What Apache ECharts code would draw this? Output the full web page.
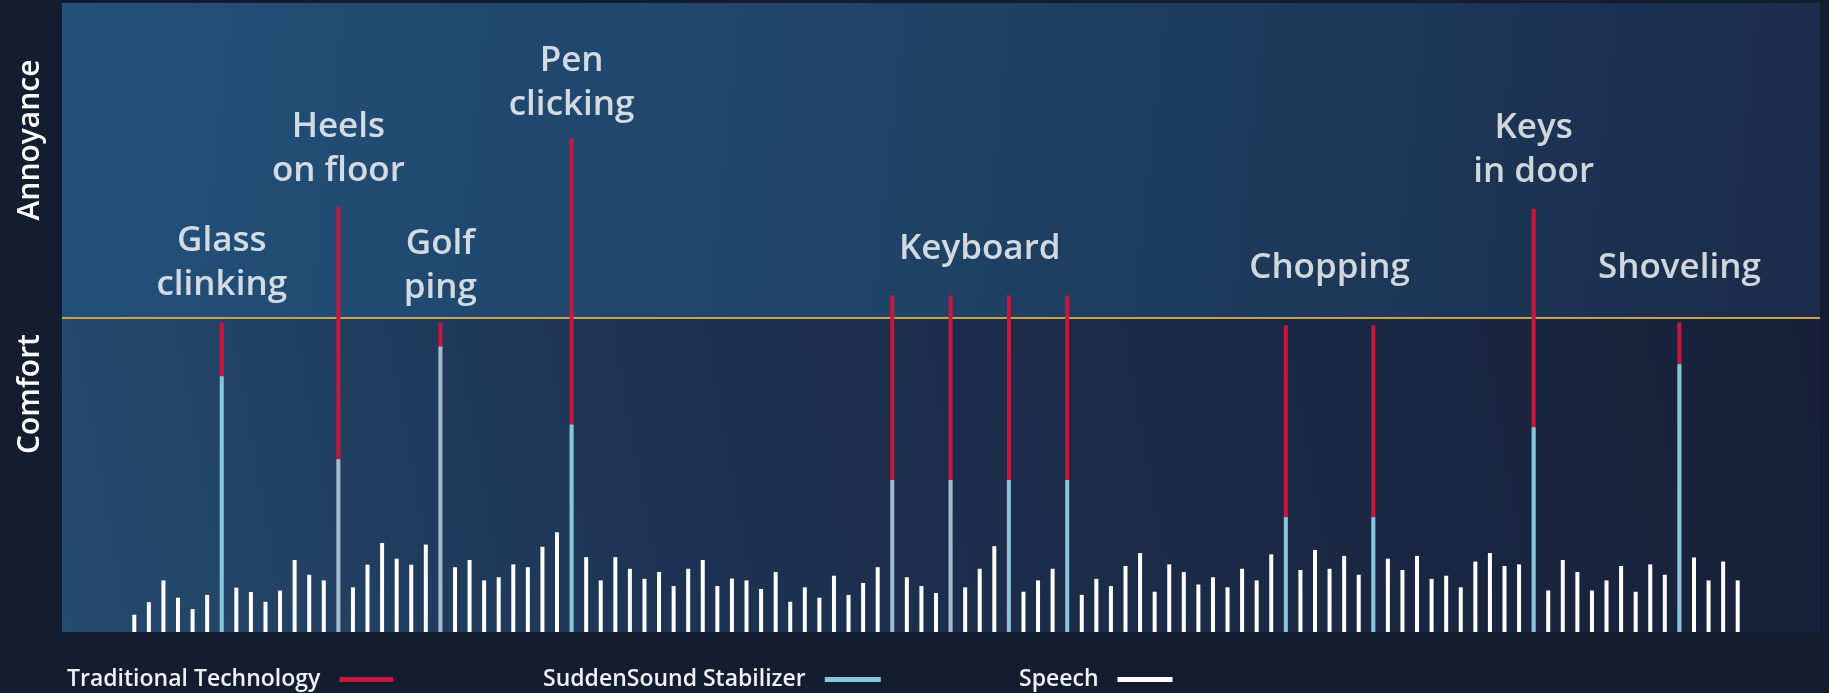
<!DOCTYPE html>
<html>
<head>
<meta charset="utf-8">
<script src="https://cdn.jsdelivr.net/npm/echarts@6/dist/echarts.min.js"></script>
<style>
  html, body { margin: 0; padding: 0; background: #141c30; }
  #chart { width: 1829px; height: 693px; }
</style>
</head>
<body>
<div id="chart"></div>
<script>
// speech level per time slot (null where a sudden sound happens)
const speech = [
  5.5, 9.5, 16.4, 10.9, 7.3, 11.8, null, 14.1, 12.7, 9.6,
  13.2, 22.9, 18.2, 16.4, null, 14.2, 21.4, 28.3, 23.3, 21.4,
  27.8, null, 20.6, 22.9, 16.4, 17.4, 21.5, 20.6, 27.1, 31.7,
  null, 23.8, 16.4, 23.8, 20.1, 16.9, 19.1, 14.6, 20.1, 22.9,
  14.6, 17.0, 16.4, 13.7, 19.1, 9.6, 14.2, 10.9, 17.9, 11.8,
  15.6, 20.6, null, 17.4, 14.6, 12.4, null, 14.2, 20.1, 27.3,
  null, 12.8, 16.4, 20.1, null, 11.8, 16.9, 14.6, 21.0, 25.1,
  12.8, 21.5, 19.1, 15.1, 17.4, 14.2, 20.1, 16.4, 24.7, null,
  19.7, 26.1, 20.1, 24.2, 18.2, null, 23.3, 19.7, 24.2, 16.9,
  17.9, 14.2, 22.4, 25.1, 21.0, 21.5, null, 13.2, 22.9, 19.1,
  13.2, 16.4, 21.0, 12.8, 21.5, 18.2, null, 23.7, 16.4, 22.4,
  16.4
]

// sudden sounds: slot, level with stabilizer, level with traditional tech
const eventIdx = [6, 14, 21, 30, 52, 56, 60, 64, 79, 85, 96, 106]
const stabilizer = [81.3, 54.9, 90.8, 66.0, 48.3, 48.3, 48.3, 48.3, 36.5, 36.5, 65.1, 85.1]
const traditional = [98.4, 135.2, 98.4, 156.8, 107, 107, 107, 107, 97.5, 97.5, 134.6, 98.4]

// sound names and where they sit
const labelText = ['Glass\nclinking', 'Heels\non floor', 'Golf\nping', 'Pen\nclicking', 'Keyboard', 'Chopping', 'Keys\nin door', 'Shoveling']
const labelIdx = [6, 14, 21, 30, 58, 82, 96, 106]
const labelAt = [103.2, 139.7, 102.5, 160.6, 114.9, 108.6, 139.4, 108.6]

const threshold = 100
const yMax = 200

const slots = speech.map((v, i) => String(i))
const redData = slots.map(() => '-')
const blueData = slots.map(() => '-')
eventIdx.forEach((idx, i) => {
  redData[idx] = traditional[i]
  blueData[idx] = stabilizer[i]
})
const whiteData = speech.map(v => (v == null ? '-' : v))

const FONT = '"Open Sans", "DejaVu Sans", sans-serif'

function legendFor(name, left, w) {
  return {
    data: [name], left: left, top: 663, align: 'right',
    icon: 'rect', itemWidth: w, itemHeight: 5,
    textStyle: { color: '#eef2f6', fontFamily: FONT, fontWeight: 600, fontSize: 23, padding: [0, 14, 0, 0] }
  }
}

const chart = echarts.init(document.getElementById('chart'))
const option = {
  animation: false,
  backgroundColor: '#141c30',
  grid: [
    { left: 62, right: 9, top: 3, bottom: 61 },
    { left: 127, right: 84, top: 3, bottom: 61 }
  ],
  xAxis: [
    { gridIndex: 0, type: 'value', min: 0, max: 1, show: false },
    { gridIndex: 1, type: 'category', data: slots, show: false }
  ],
  yAxis: [
    { gridIndex: 0, type: 'value', min: 0, max: yMax, show: false },
    { gridIndex: 1, type: 'value', min: 0, max: yMax, show: false }
  ],
  legend: [
    legendFor('Traditional Technology', 62, 54),
    legendFor('SuddenSound Stabilizer', 538, 56),
    legendFor('Speech', 1014, 55)
  ],
  graphic: [
    {
      type: 'text', x: 30, y: 140, rotation: Math.PI / 2,
      style: { text: 'Annoyance', fill: '#ffffff', font: '600 30px ' + FONT, align: 'center', verticalAlign: 'middle' }
    },
    {
      type: 'text', x: 30, y: 394, rotation: Math.PI / 2,
      style: { text: 'Comfort', fill: '#ffffff', font: '600 30px ' + FONT, align: 'center', verticalAlign: 'middle' }
    }
  ],
  series: [
    {
      name: 'zones',
      type: 'line',
      xAxisIndex: 0,
      yAxisIndex: 0,
      data: [[0, 0], [1, 0]],
      symbol: 'none',
      lineStyle: { opacity: 0 },
      silent: true,
      z: 1,
      markArea: {
        silent: true,
        data: [
          [
            {
              yAxis: threshold,
              itemStyle: {
                color: new echarts.graphic.LinearGradient(0, 0.2, 1, 0.8, [
                  { offset: 0, color: '#22507a' },
                  { offset: 0.5, color: '#1f4265' },
                  { offset: 1, color: '#1a2c4a' }
                ])
              }
            },
            { yAxis: yMax }
          ],
          [
            {
              yAxis: 0,
              itemStyle: {
                color: new echarts.graphic.LinearGradient(0, 1, 1, 0, [
                  { offset: 0, color: '#254b6f' },
                  { offset: 0.35, color: '#1d3252' },
                  { offset: 1, color: '#172038' }
                ])
              }
            },
            { yAxis: threshold }
          ]
        ]
      },
      markLine: {
        silent: true,
        symbol: 'none',
        label: { show: false },
        lineStyle: { color: '#c9a24b', width: 2, type: 'solid' },
        data: [{ yAxis: threshold }]
      }
    },
    {
      name: 'Traditional Technology',
      type: 'bar',
      xAxisIndex: 1,
      yAxisIndex: 1,
      data: redData,
      barWidth: 4,
      barGap: '-100%',
      itemStyle: { color: '#c8173d' },
      z: 5
    },
    {
      name: 'SuddenSound Stabilizer',
      type: 'bar',
      xAxisIndex: 1,
      yAxisIndex: 1,
      data: blueData,
      barWidth: 4,
      barGap: '-100%',
      itemStyle: { color: '#86c6da' },
      z: 6
    },
    {
      name: 'Speech',
      type: 'bar',
      xAxisIndex: 1,
      yAxisIndex: 1,
      data: whiteData,
      barWidth: 4,
      barGap: '-100%',
      itemStyle: { color: '#ffffff' },
      z: 6
    },
    {
      name: 'names',
      type: 'scatter',
      xAxisIndex: 1,
      yAxisIndex: 1,
      symbolSize: 0,
      silent: true,
      z: 7,
      data: labelText.map((t, i) => ({ name: t, value: [labelIdx[i], labelAt[i]] })),
      label: {
        show: true,
        position: 'top',
        distance: 0,
        formatter: p => p.name,
        color: '#ffffff',
        fontFamily: FONT,
        fontWeight: 600,
        fontSize: 35,
        lineHeight: 44,
        align: 'center'
      }
    }
  ]
}
chart.setOption(option)
</script>
</body>
</html>
